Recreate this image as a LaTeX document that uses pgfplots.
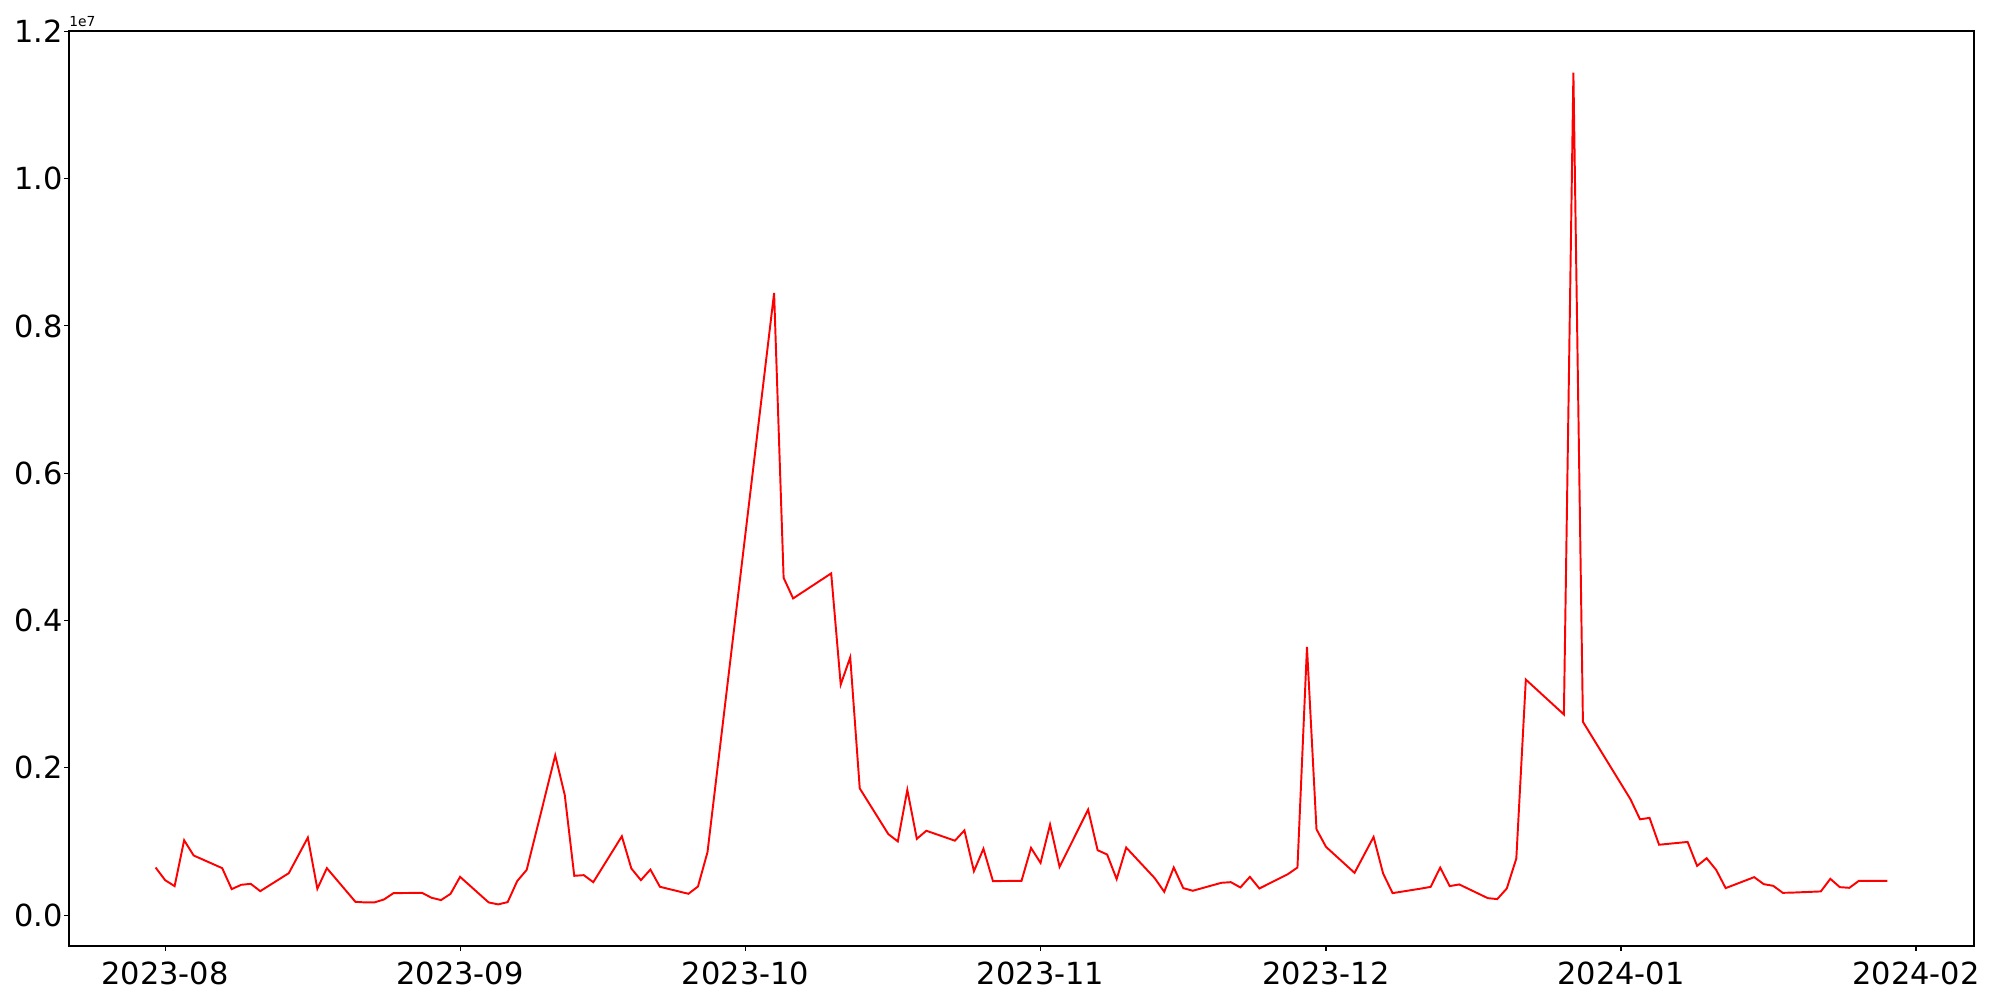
\documentclass[border=0pt]{standalone}
\usepackage{pgfplots}
\pgfplotsset{compat=1.18}
\usepackage{pgfplotstable}
\usepackage{fontspec}
\setmainfont{DejaVu Sans}
\pgfplotstableread{
day value
-1 646000
0 474000
1 393000
2 1016000
3 809000
6 637000
7 352000
8 411000
9 424000
10 325000
13 569000
15 1052000
16 357000
17 637000
20 180000
21 172000
22 172000
23 212000
24 298000
27 302000
28 235000
29 203000
30 289000
31 519000
34 172000
35 145000
36 176000
37 461000
38 614000
41 2168000
42 1630000
43 533000
44 542000
45 447000
48 1070000
49 632000
50 474000
51 618000
52 384000
55 289000
56 388000
57 854000
64 8447000
65 4580000
66 4300000
70 4640000
71 3130000
72 3500000
73 1720000
76 1100000
77 1000000
78 1700000
79 1035000
80 1145000
83 1010000
84 1150000
85 596000
86 900000
87 461000
90 465000
91 912000
92 709000
93 1229000
94 655000
97 1432000
98 881000
99 822000
100 488000
101 917000
104 501000
105 316000
106 646000
107 366000
108 330000
111 438000
112 447000
113 375000
114 519000
115 361000
118 556000
119 646000
120 3640000
121 1165000
122 926000
125 573000
126 817000
127 1061000
128 565000
129 298000
132 360000
133 383000
134 645000
135 393000
136 416000
139 230000
140 217000
141 361000
142 768000
143 3198000
147 2724000
148 11440000
149 2624000
154 1572000
155 1300000
156 1320000
157 955000
160 993000
161 668000
162 772000
163 614000
164 366000
167 515000
168 420000
169 397000
170 302000
171 305000
174 321000
175 492000
176 379000
177 370000
178 465000
181 465000
}\datatable
\begin{document}
\begin{tikzpicture}
\useasboundingbox (0,0) rectangle (20in,10in);
\fill[white] (0,0) rectangle (20in,10in);
\begin{axis}[
  at={(0.69in,0.54in)}, anchor=south west,
  scale only axis, width=19.05in, height=9.15in,
  xmin=-10.1, xmax=190.1,
  ymin=-420000, ymax=12005000,
  axis line style={line width=0.8pt},
  tick align=outside,
  major tick length=3.5pt,
  every tick/.style={black, line width=0.8pt},
  xtick={0,31,61,92,122,153,184},
  xticklabels={2023-08,2023-09,2023-10,2023-11,2023-12,2024-01,2024-02},
  ytick={0,2000000,4000000,6000000,8000000,10000000,12000000},
  yticklabels={0.0,0.2,0.4,0.6,0.8,1.0,1.2},
  scaled y ticks=false,
  xtick pos=bottom, ytick pos=left,
  minor tick num=0,
  /pgf/number format/assume math mode=true,
  tick label style={font=\fontsize{22}{26}\selectfont, inner sep=0pt},
  xticklabel style={anchor=north, yshift=-8pt},
  yticklabel style={anchor=east, xshift=-1pt},
  clip mode=individual,
]
\addplot[red, line width=1.4pt, line join=miter, mark=none] table[x=day, y=value] {\datatable};
\node[anchor=base west, inner sep=0pt, font=\fontsize{10}{12}\selectfont] at (rel axis cs:0,1) [yshift=3.6pt] {1e7};
\end{axis}
\end{tikzpicture}
\end{document}
